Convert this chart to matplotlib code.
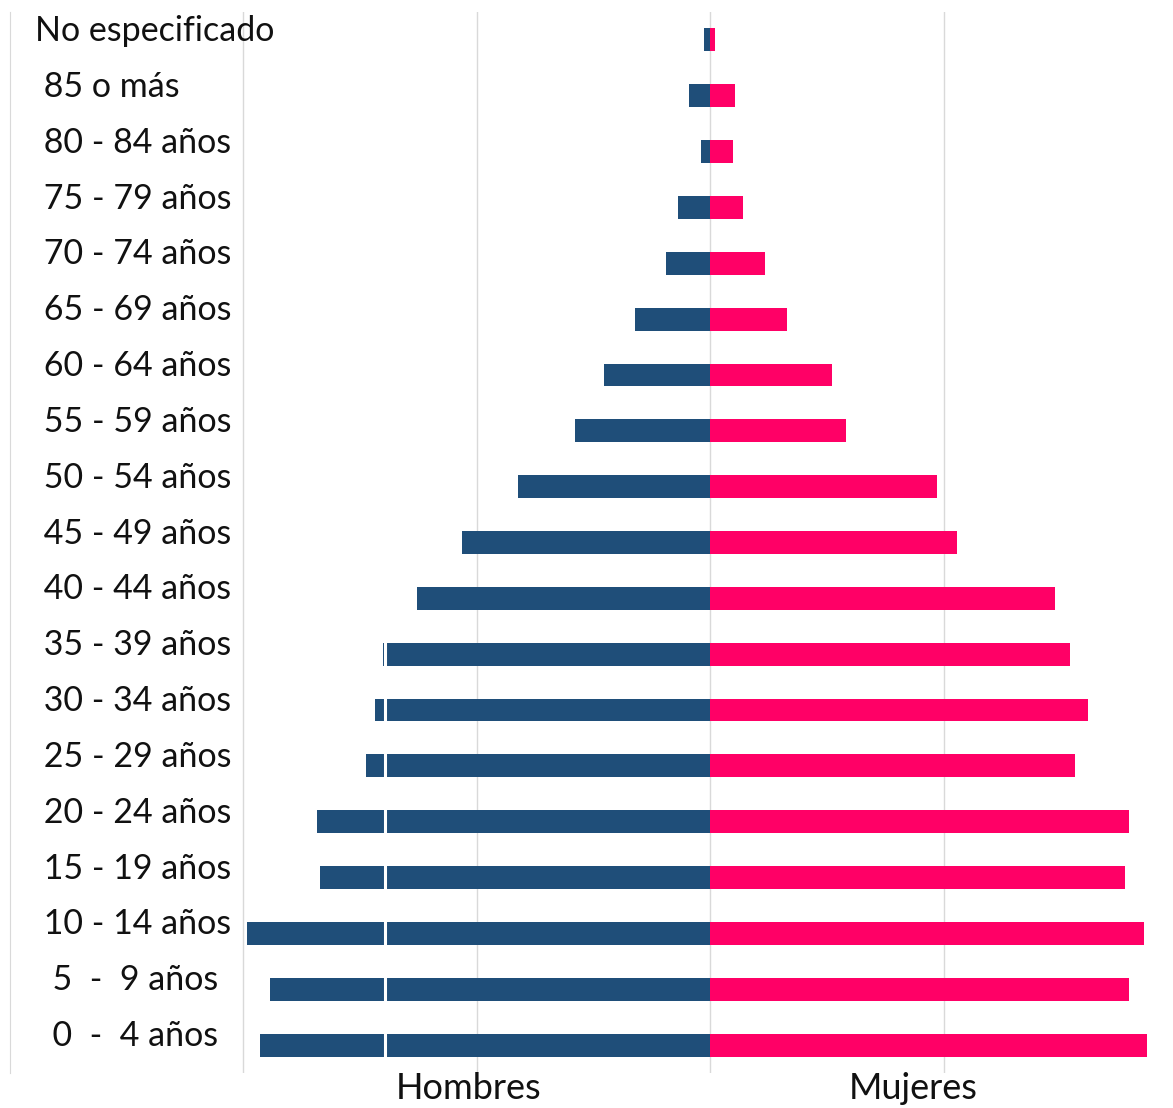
import matplotlib.pyplot as plt
import numpy as np

plt.rcParams['font.family'] = ['Lato', 'DejaVu Sans']

grupos = ["No especificado", " 85 o más", " 80 - 84 años", " 75 - 79 años", " 70 - 74 años",
          " 65 - 69 años", " 60 - 64 años", " 55 - 59 años", " 50 - 54 años", " 45 - 49 años",
          " 40 - 44 años", " 35 - 39 años", " 30 - 34 años", " 25 - 29 años", " 20 - 24 años",
          " 15 - 19 años", " 10 - 14 años", "  5  -  9 años", "  0  -  4 años"]
hombres = [51, 180, 77, 274, 377, 642, 908, 1156, 1644, 2124,
           2510, 2801, 2869, 2946, 3366, 3340, 3966, 3769, 3854]
mujeres = [43, 214, 197, 283, 471, 660, 1045, 1165, 1944, 2116,
           2955, 3083, 3238, 3126, 3589, 3555, 3717, 3589, 3743]

azul = "#1F4E79"
rosa = "#FF0066"

fig = plt.figure(figsize=(11.73, 11.08), dpi=100)
W, H = 1173, 1108
ax = fig.add_axes([10 / W, 1 - 1073 / H, 1 - 10 / W, (1073 - 12) / H])

y = np.arange(len(grupos))
ax.barh(y, [-v for v in hombres], height=0.41, color=azul, zorder=2)
ax.barh(y, mujeres, height=0.41, color=rosa, zorder=2)

# white gap line crossing the long male bars
ax.axvline(-2784, color="white", lw=2.2, zorder=3)

for gx in [-4000, -2000, 0, 2000]:
    ax.axvline(gx, color="#d9d9d9", lw=1, zorder=1)

ax.set_xlim(-6000, 3966)
ax.set_ylim(len(grupos) - 0.5, -0.5)

for i, g in enumerate(grupos):
    ax.text(-5790, i - 0.16, g, ha="left", va="center", fontsize=24.5, color="#111111")

ax.set_xticks([])
ax.set_yticks([])
for s in ["top", "right", "bottom"]:
    ax.spines[s].set_visible(False)
ax.spines["left"].set_color("#d9d9d9")

xt = ax.get_xaxis_transform()
ax.text(-2070, 0.001, "Hombres", transform=xt, ha="center", va="top",
        fontsize=26, color="#111111")
ax.text(1739, 0.001, "Mujeres", transform=xt, ha="center", va="top",
        fontsize=26, color="#111111")

fig.savefig("out.png", dpi=100)
